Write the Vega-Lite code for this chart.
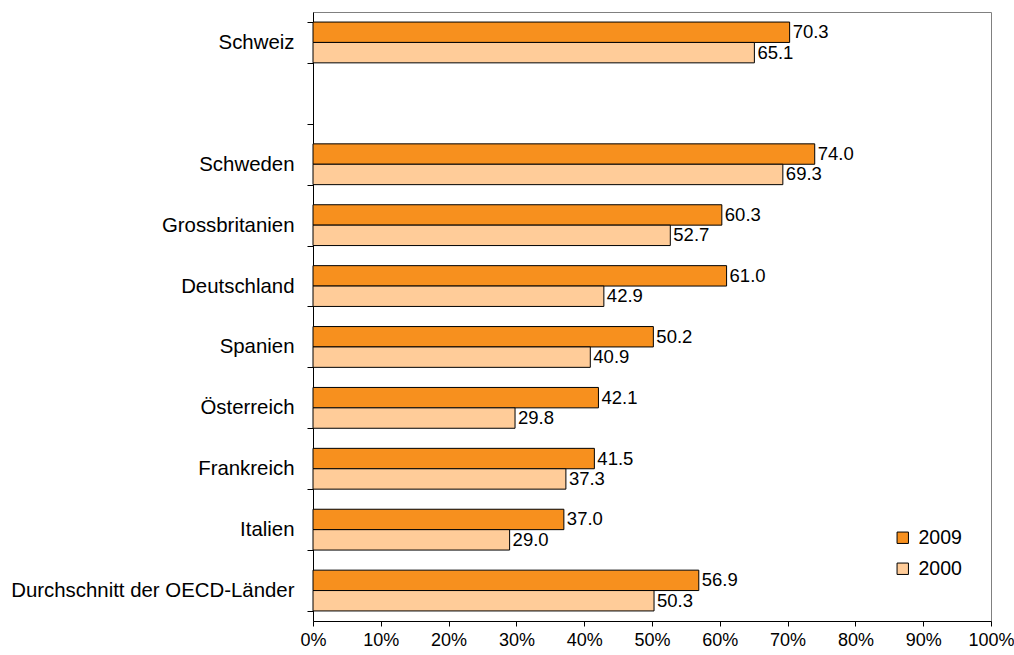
{
  "$schema": "https://vega.github.io/schema/vega-lite/v6.json",
  "width": 678,
  "height": 609,
  "autosize": {"type": "none"},
  "padding": {"left": 313, "top": 12, "right": 23, "bottom": 34},
  "background": "white",
  "config": {
    "font": "Liberation Sans",
    "view": {"stroke": "#808080", "strokeWidth": 1},
    "axis": {"domainColor": "black", "tickColor": "black", "labelColor": "black", "labelFont": "Liberation Sans"}
  },
  "data": {
    "values": [
      {"country": "Schweiz", "year": "2009", "value": 70.3},
      {"country": "Schweiz", "year": "2000", "value": 65.1},
      {"country": "Schweden", "year": "2009", "value": 74.0},
      {"country": "Schweden", "year": "2000", "value": 69.3},
      {"country": "Grossbritanien", "year": "2009", "value": 60.3},
      {"country": "Grossbritanien", "year": "2000", "value": 52.7},
      {"country": "Deutschland", "year": "2009", "value": 61.0},
      {"country": "Deutschland", "year": "2000", "value": 42.9},
      {"country": "Spanien", "year": "2009", "value": 50.2},
      {"country": "Spanien", "year": "2000", "value": 40.9},
      {"country": "Österreich", "year": "2009", "value": 42.1},
      {"country": "Österreich", "year": "2000", "value": 29.8},
      {"country": "Frankreich", "year": "2009", "value": 41.5},
      {"country": "Frankreich", "year": "2000", "value": 37.3},
      {"country": "Italien", "year": "2009", "value": 37.0},
      {"country": "Italien", "year": "2000", "value": 29.0},
      {"country": "Durchschnitt der OECD-Länder", "year": "2009", "value": 56.9},
      {"country": "Durchschnitt der OECD-Länder", "year": "2000", "value": 50.3}
    ]
  },
  "encoding": {
    "y": {
      "field": "country",
      "type": "nominal",
      "scale": {
        "domain": ["Schweiz", " ", "Schweden", "Grossbritanien", "Deutschland", "Spanien", "Österreich", "Frankreich", "Italien", "Durchschnitt der OECD-Länder"],
        "paddingInner": 0.33,
        "paddingOuter": 0.165
      },
      "axis": {
        "title": null,
        "labelFontSize": 20.4,
        "labelLimit": 400,
        "labelPadding": 13,
        "tickBand": "extent",
        "tickSize": 6,
        "domainColor": "black"
      }
    },
    "yOffset": {"field": "year", "type": "nominal", "scale": {"domain": ["2009", "2000"]}},
    "x": {
      "field": "value",
      "type": "quantitative",
      "scale": {"domain": [0, 100]},
      "axis": {
        "title": null,
        "values": [0, 10, 20, 30, 40, 50, 60, 70, 80, 90, 100],
        "labelExpr": "datum.value + '%'",
        "labelFontSize": 18,
        "labelFlush": false,
        "labelPadding": 5,
        "tickSize": 5,
        "grid": false
      }
    }
  },
  "layer": [
    {
      "mark": {"type": "bar", "stroke": "black", "strokeWidth": 1},
      "encoding": {
        "fill": {
          "field": "year",
          "type": "nominal",
          "scale": {"domain": ["2009", "2000"], "range": ["#F7901E", "#FFCC99"]},
          "legend": {
            "title": null,
            "orient": "none",
            "legendX": 580,
            "legendY": 516,
            "symbolType": "square",
            "symbolSize": 130,
            "symbolStrokeColor": "black",
            "symbolStrokeWidth": 1,
            "labelFontSize": 19.5,
            "labelColor": "black",
            "rowPadding": 10,
            "labelOffset": 6
          }
        }
      }
    },
    {
      "mark": {"type": "text", "align": "left", "dx": 3, "fontSize": 18.5, "color": "black"},
      "encoding": {
        "text": {"field": "value", "type": "quantitative", "format": ".1f"}
      }
    }
  ]
}
